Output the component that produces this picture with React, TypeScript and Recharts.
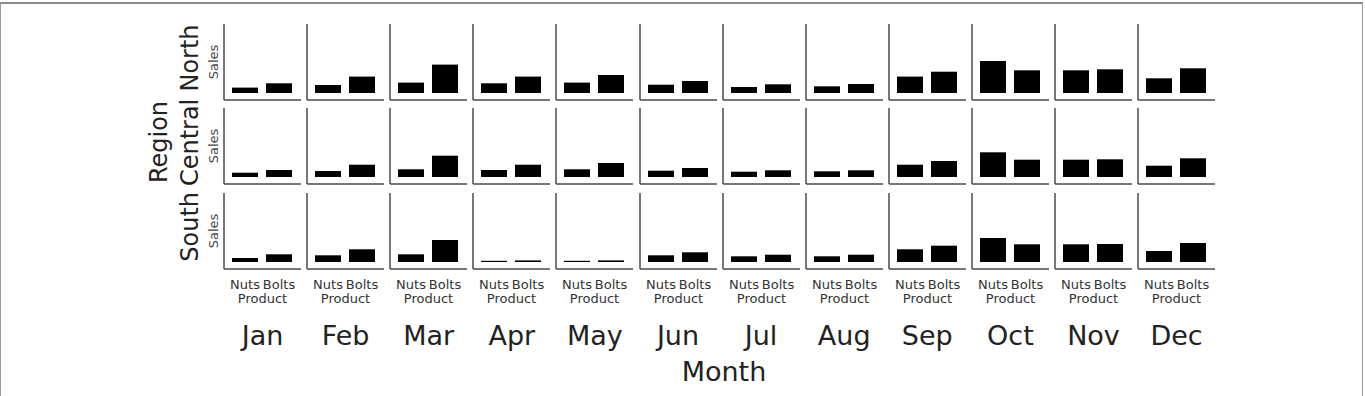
import React from "react";
import { BarChart, Bar, XAxis, YAxis } from "recharts";

const months = ["Jan", "Feb", "Mar", "Apr", "May", "Jun", "Jul", "Aug", "Sep", "Oct", "Nov", "Dec"];
const products = ["Nuts", "Bolts"];
const regions = ["North", "Central", "South"];

// sales per month
const northNuts = [54, 80, 104, 97, 104, 83, 60, 67, 164, 320, 227, 147];
const northBolts = [97, 164, 284, 164, 180, 120, 87, 90, 213, 227, 237, 247];
const centralNuts = [43, 60, 77, 70, 77, 63, 53, 57, 123, 247, 173, 113];
const centralBolts = [70, 123, 213, 123, 140, 90, 67, 67, 160, 173, 177, 187];
const southNuts = [40, 67, 77, 12, 12, 67, 57, 57, 127, 240, 177, 110];
const southBolts = [77, 127, 220, 16, 16, 97, 73, 73, 163, 177, 180, 190];

const salesMax = 690;

const regionSeries: Record<string, number[][]> = {
  North: [northNuts, northBolts],
  Central: [centralNuts, centralBolts],
  South: [southNuts, southBolts],
};

const PLOT_W = 77;
const PLOT_H = 76;
const Y_W = 22;
const COL0 = 224;
const COL_STEP = 83.1;
const ROW0 = 24;
const ROW_STEP = 84.4;
const AXIS = { stroke: "#4a4a4a", strokeWidth: 1.5 };

function Panel({ region, r, c }: { region: string; r: number; c: number }) {
  const last = r === regions.length - 1;
  const data = products.map((p, k) => ({ product: p, sales: regionSeries[region][k][c] }));
  const xh = last ? 42 : 1;
  return (
    <div style={{ position: "absolute", left: COL0 + c * COL_STEP - Y_W, top: ROW0 + r * ROW_STEP }}>
      <BarChart
        width={Y_W + PLOT_W}
        height={PLOT_H + xh}
        data={data}
        margin={{ top: 0, right: 0, bottom: 0, left: 0 }}
      >
        <XAxis
          dataKey="product"
          type="category"
          interval={0}
          padding={{ left: 4, right: 5 }}
          height={xh}
          tick={last ? { fontSize: 13, fill: "#333" } : false}
          tickLine={false}
          tickMargin={5}
          axisLine={AXIS}
          label={
            last
              ? { value: "Product", position: "insideBottom", offset: 8, fontSize: 13, fill: "#333" }
              : undefined
          }
        />
        <YAxis
          type="number"
          domain={[0, salesMax]}
          width={Y_W}
          tick={false}
          tickLine={false}
          axisLine={AXIS}
          padding={{ top: 0, bottom: 7 }}
          label={
            c === 0
              ? { value: "Sales", angle: -90, position: "center", fontSize: 13, fill: "#444" }
              : undefined
          }
        />
        <Bar dataKey="sales" fill="#000" barSize={26} isAnimationActive={false} />
      </BarChart>
    </div>
  );
}

export default function App() {
  const rowCenter = (r: number) => ROW0 + r * ROW_STEP + 34;
  return (
    <div
      style={{
        position: "absolute",
        left: 0,
        top: 0,
        width: 1365,
        height: 396,
        overflow: "hidden",
        background: "#fff",
        fontFamily: "DejaVu Sans",
      }}
    >
      <div
        style={{
          position: "absolute",
          left: 0,
          top: 2,
          width: 1361,
          height: 420,
          borderTop: "2px solid #8a8a8a",
          borderLeft: "1px solid #9a9a9a",
          borderRight: "1px solid #9a9a9a",
        }}
      />
      <svg width={1365} height={396} style={{ position: "absolute", left: 0, top: 0 }}>
        {months.map((m, c) => (
          <text
            key={m}
            x={COL0 + c * COL_STEP + PLOT_W / 2}
            y={345}
            textAnchor="middle"
            fontSize={27}
            fill="#222"
          >
            {m}
          </text>
        ))}
        <text x={724} y={381} textAnchor="middle" fontSize={27} fill="#222">
          Month
        </text>
        {regions.map((reg, r) => (
          <text
            key={reg}
            x={198}
            y={rowCenter(r)}
            transform={`rotate(-90 198 ${rowCenter(r)})`}
            textAnchor="middle"
            fontSize={24}
            fill="#222"
          >
            {reg}
          </text>
        ))}
        <text x={167} y={142} transform="rotate(-90 167 142)" textAnchor="middle" fontSize={24} fill="#222">
          Region
        </text>
      </svg>
      {regions.map((reg, r) =>
        months.map((m, c) => <Panel key={reg + m} region={reg} r={r} c={c} />)
      )}
    </div>
  );
}
